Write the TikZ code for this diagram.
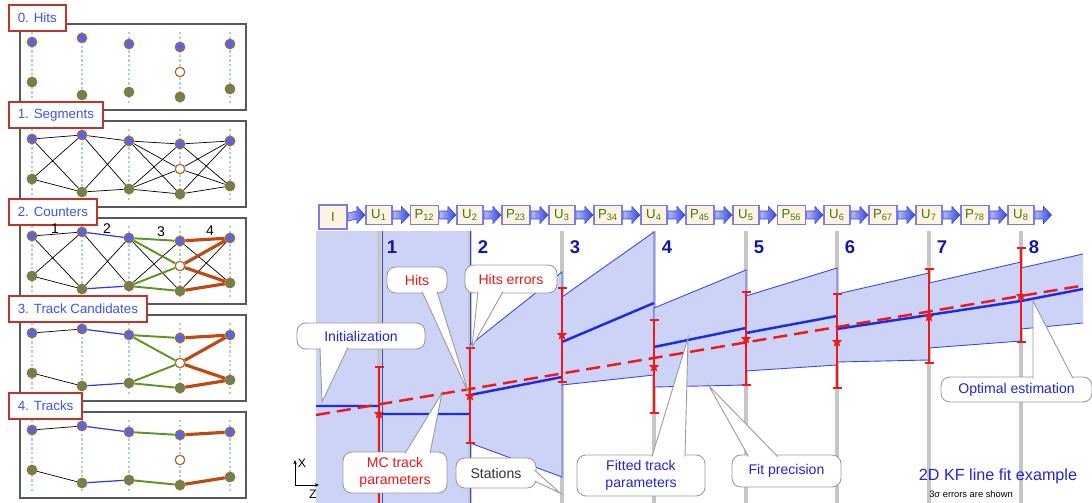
\documentclass[tikz,border=0pt]{standalone}
\usepackage{fontspec}
\setmainfont{Liberation Sans}
\usepackage{tikz}
\usetikzlibrary{calc,positioning,arrows.meta,shapes.geometric}

\definecolor{HitBlue}{HTML}{4A68F0}
\definecolor{HitGreen}{HTML}{5B8B52}
\definecolor{HitRim}{HTML}{B8642C}
\definecolor{DotLine}{HTML}{A8D2D8}
\definecolor{LabRed}{HTML}{C0342C}
\definecolor{LabText}{HTML}{3A55F0}
\definecolor{LnkBlue}{HTML}{2C3CF0}
\definecolor{LnkGreen}{HTML}{5C9620}
\definecolor{LnkOrange}{HTML}{BE4A12}
\definecolor{KFband}{HTML}{CDD2F7}
\definecolor{KFedge}{HTML}{3A48EC}
\definecolor{KFline}{HTML}{1A2CE4}
\definecolor{KFred}{HTML}{F01818}
\definecolor{KFnum}{HTML}{1414A8}
\definecolor{KFtext}{HTML}{2424D8}
\definecolor{StGrey}{HTML}{C6C6C6}
\definecolor{BoxFill}{HTML}{FFF4E2}
\definecolor{BoxDraw}{HTML}{7C7CEA}
\definecolor{BoxText}{HTML}{3C7A10}
\definecolor{CallGrey}{HTML}{9A9A9A}
\definecolor{ArrLight}{HTML}{B4BCF6}
\definecolor{ArrDark}{HTML}{3442DC}

% one step of the track finder: frame, stations, hits
\newcommand{\hitpanel}[2]{%
  \begin{scope}[shift={(0,{97*#1})}]
    \draw[panelframe] (20,24) rectangle (246,110);
    \foreach \x/\yt/\yb [count=\i] in {32/42/82,82/38/95,129/44/92,180/47/97,230/44/89}{
      \draw[stationdots] (\x,32) -- (\x,105);
      \node[hitb] (p#1t\i) at (\x,\yt) {};
      \node[hitg] (p#1b\i) at (\x,\yb) {};
    }
    \node[hite] (p#1e) at (180,72) {};
    \node[panellabel] (lab#1) at (8,18) {#2};
  \end{scope}}

% block arrow of the filter chain
\newcommand{\fatarrow}[2]{%
  \path[draw=ArrDark, line width=0.3pt, left color=ArrLight, right color=ArrDark]
    ($(#1)+(0.5,-4)$) -- ($(#2)+(-8.5,-4)$) -- ($(#2)+(-8.5,-8.5)$) -- ($(#2)+(-0.5,0)$)
    -- ($(#2)+(-8.5,8.5)$) -- ($(#2)+(-8.5,4)$) -- ($(#1)+(0.5,4)$) -- cycle;}

% pointer of a callout
\newcommand{\pointto}[4]{%
  \fill[white] ($(#1)+(#2)$) -- (#4) -- ($(#1)+(#3)$) -- cycle;
  \draw[pointer] ($(#1)+(#2)$) -- (#4) -- ($(#1)+(#3)$);}

\begin{document}
\begin{tikzpicture}[x=0.02cm, y=-0.02cm,
    panelframe/.style={draw=black!65, line width=0.6pt},
    stationdots/.style={DotLine, line width=1.3pt, dash pattern=on 1.3pt off 1.3pt},
    hit/.style={circle, draw=HitRim, line width=0.7pt, minimum size=0.19cm, inner sep=0pt},
    hitb/.style={hit, fill=HitBlue},
    hitg/.style={hit, fill=HitGreen},
    hite/.style={hit, fill=white},
    panellabel/.style={draw=LabRed, line width=1.1pt, fill=white, text=LabText, anchor=west,
                       minimum height=0.52cm, inner xsep=5pt, font=\fontsize{7.6}{9}\selectfont},
    seg/.style={black, line width=0.4pt},
    lkblue/.style={LnkBlue, line width=0.7pt},
    lkgreen/.style={LnkGreen, line width=1.1pt},
    lkorange/.style={LnkOrange, line width=1.8pt},
    cntlabel/.style={font=\fontsize{8}{9}\selectfont},
    band/.style={fill=KFband},
    bandedge/.style={draw=KFedge, line width=0.5pt},
    stationline/.style={StGrey, line width=1.8pt},
    estline/.style={KFline, line width=1.4pt},
    mcline/.style={KFred, line width=1.4pt, dash pattern=on 8pt off 4pt},
    errbar/.style={KFred, line width=1.6pt},
    hitstar/.style={star, star points=5, star point ratio=2.3, fill=KFred, minimum size=0.22cm, inner sep=0pt},
    stnum/.style={text=KFnum, font=\bfseries\fontsize{10.5}{12}\selectfont},
    chainbox/.style={draw=BoxDraw, fill=BoxFill, text=BoxText, line width=0.6pt,
                     minimum height=0.38cm, inner sep=1pt, font=\fontsize{7.5}{8}\selectfont},
    bubble/.style={draw=CallGrey, fill=white, line width=0.5pt, rounded corners=5pt, align=center,
                   inner sep=1pt, font=\fontsize{8}{9.5}\selectfont},
    pointer/.style={CallGrey, line width=0.5pt},
    zxaxis/.style={black, line width=0.4pt, -{Stealth[length=2.5pt,width=2pt]}},
    axlabel/.style={font=\fontsize{7}{8}\selectfont, inner sep=0pt}]
\useasboundingbox (0,0) rectangle (1092,503);

% ---- left: track finder steps
\hitpanel{0}{0. Hits}
\hitpanel{1}{1. Segments}
\hitpanel{2}{2. Counters}
\hitpanel{3}{3. Track Candidates}
\hitpanel{4}{4. Tracks}

% segments
\foreach \a/\b in {1/2,2/3,3/4,4/5}
  \draw[seg] (p1t\a) -- (p1t\b) (p1t\a) -- (p1b\b) (p1b\a) -- (p1t\b) (p1b\a) -- (p1b\b);
\draw[seg] (p1t3) -- (p1e) (p1b3) -- (p1e) (p1e) -- (p1t5) (p1e) -- (p1b5);

% counters
\draw[seg] (p2t1) -- (p2t2) (p2t1) -- (p2b2) (p2b1) -- (p2t2) (p2b1) -- (p2b2)
           (p2t2) -- (p2b3) (p2b2) -- (p2t3) (p2t3) -- (p2b4) (p2b3) -- (p2t4)
           (p2t4) -- (p2b5) (p2b4) -- (p2t5);
\draw[lkblue] (p2t2) -- (p2t3) (p2b2) -- (p2b3);
\draw[lkgreen] (p2t3) -- (p2t4) (p2t3) -- (p2e) (p2b3) -- (p2e) (p2b3) -- (p2b4);
\draw[lkorange] (p2t4) -- (p2t5) (p2e) -- (p2t5) (p2e) -- (p2b5) (p2b4) -- (p2b5);
\node[cntlabel] (cnt1) at (55,229) {1};
\node[cntlabel] (cnt2) at (107,229) {2};
\node[cntlabel] (cnt3) at (161,232) {3};
\node[cntlabel] (cnt4) at (210,231) {4};

% track candidates
\draw[seg] (p3t1) -- (p3t2) (p3b1) -- (p3b2);
\draw[lkblue] (p3t2) -- (p3t3) (p3b2) -- (p3b3);
\draw[lkgreen] (p3t3) -- (p3t4) (p3t3) -- (p3e) (p3b3) -- (p3e) (p3b3) -- (p3b4);
\draw[lkorange] (p3t4) -- (p3t5) (p3e) -- (p3t5) (p3e) -- (p3b5) (p3b4) -- (p3b5);

% tracks
\draw[seg] (p4t1) -- (p4t2) (p4b1) -- (p4b2);
\draw[lkblue] (p4t2) -- (p4t3) (p4b2) -- (p4b3);
\draw[lkgreen] (p4t3) -- (p4t4) (p4b3) -- (p4b4);
\draw[lkorange] (p4t4) -- (p4t5) (p4b4) -- (p4b5);

% ---- right: KF line fit
\fill[band] (316,231) rectangle (470,503);
\foreach \s in {379,470,562,654,746,837,929,1021}
  \draw[stationline] (\s,231) -- (\s,503);
\draw[bandedge] (382,231) -- (382,503) (470,231) -- (470,503);

\filldraw[band, bandedge] (470,345) -- (562,272) -- (562,477) -- (470,443) -- cycle;
\filldraw[band, bandedge] (562,297) -- (654,232) -- (654,375) -- (562,385) -- cycle;
\filldraw[band, bandedge] (654,308) -- (746,270) -- (746,385) -- (654,387) -- cycle;
\filldraw[band, bandedge] (746,296) -- (837,268) -- (837,365) -- (746,371) -- cycle;
\filldraw[band, bandedge] (837,294) -- (929,273) -- (929,360) -- (837,362) -- cycle;
\filldraw[band, bandedge] (929,283) -- (1021,262) -- (1021,341) -- (929,348) -- cycle;
\fill[band] (1021,268) -- (1083,254) -- (1083,323) -- (1021,329) -- cycle;
\draw[bandedge] (1083,254) -- (1021,268) -- (1021,329) -- (1083,323);

% estimate and true track
\draw[estline] (316,406) -- (379,406) (379,414) -- (470,414) (470,395) -- (562,377)
  (562,342) -- (654,303) (654,347) -- (746,328) (746,333) -- (837,316)
  (837,329) -- (929,315) -- (1021,301) -- (1083,289);
\draw[mcline] (316,415) -- (1080,286);

% hits with errors
\draw[errbar] (374.5,367) -- (383.5,367) (379,367) -- (379,503);
\node[hitstar] (star1) at (379,414) {};
\foreach \s/\t/\b/\h [count=\i from 2] in {470/348/443/396,562/288/382/335,654/320/413/367,
    746/292/385/339,837/294/388/342,929/269/363/317,1021/248/342/296}{
  \draw[errbar] (\s-4.5,\t) -- (\s+4.5,\t) (\s,\t) -- (\s,\b) (\s-4.5,\b) -- (\s+4.5,\b);
  \node[hitstar] (star\i) at (\s,\h) {};
}

% station numbers
\foreach \s [count=\i] in {379,470,562,654,746,837,929,1021}
  \node[stnum] (num\i) at (\s+13,247) {\i};

% filter chain
\node[chainbox, minimum width=0.56cm, minimum height=0.48cm] (I) at (333,217) {I};
\foreach \s [count=\i] in {379,470,562,654,746,837,929,1021}
  \node[chainbox, minimum width=0.52cm] (U\i) at (\s,215) {U\textsubscript{\i}};
\foreach \i in {1,...,7}{
  \pgfmathtruncatemacro{\j}{\i+1}
  \node[chainbox, minimum width=0.56cm] (P\i\j) at ($(U\i)!0.5!(U\j)$) {P\textsubscript{\i\j}};
}
\coordinate (chainend) at (1052,215);
\foreach \a/\b in {I/U1,U1/P12,P12/U2,U2/P23,P23/U3,U3/P34,P34/U4,U4/P45,P45/U5,
    U5/P56,P56/U6,U6/P67,P67/U7,U7/P78,P78/U8}{
  \fatarrow{\a.east}{\b.west}
}
\fatarrow{U8.east}{chainend}

% callouts
\coordinate (tipHits) at (469,394);
\coordinate (tipErr) at (472,347);
\coordinate (tipInit) at (322,402);
\coordinate (tipMC) at (442,393);
\coordinate (tipStat) at (560,493);
\coordinate (tipFit) at (688,338);
\coordinate (tipPrec) at (709,386);
\coordinate (tipOpt) at (1033,301);

\node[bubble, text=KFred, minimum width=1.2cm, minimum height=0.52cm] (hitsC) at (417,280) {Hits};
\pointto{hitsC}{5,11.5}{20,11.5}{tipHits}
\node[bubble, text=KFred, minimum width=1.84cm, minimum height=0.56cm] (errC) at (511,279) {Hits errors};
\pointto{errC}{-33,12.5}{-8,12.5}{tipErr}
\node[bubble, text=KFtext, minimum width=2.56cm, minimum height=0.52cm] (initC) at (361,336) {Initialization};
\pointto{initC}{-41,11.5}{-13,11.5}{tipInit}
\node[bubble, text=KFred, minimum width=2.08cm, minimum height=0.82cm] (mcC) at (395,472.5) {MC track\\parameters};
\pointto{mcC}{10,-19}{35,-19}{tipMC}
\node[bubble, text=black!80, minimum width=1.6cm, minimum height=0.6cm] (statC) at (496,473) {Stations};
\pointto{statC}{38.5,-3}{38.5,8}{tipStat}
\node[bubble, text=KFtext, minimum width=2.56cm, minimum height=0.82cm] (fitC) at (641,475.5) {Fitted track\\parameters};
\pointto{fitC}{11,-19}{44,-19}{tipFit}
\node[bubble, text=KFtext, minimum width=2.18cm, minimum height=0.64cm] (precC) at (786.5,471) {Fit precision};
\pointto{precC}{-38,-14.5}{-9,-14.5}{tipPrec}
\node[bubble, text=KFtext, minimum width=3.02cm, minimum height=0.5cm] (optC) at (1016.5,389.5) {Optimal estimation};
\pointto{optC}{16.5,-11}{56.5,-11}{tipOpt}

% axes and caption
\coordinate (axO) at (295,485);
\coordinate (axXtip) at (295,460);
\coordinate (axZtip) at (319,485);
\draw[zxaxis] (axO) -- (axXtip);
\draw[zxaxis] (axO) -- (axZtip);
\node[axlabel] (axX) at (302,463) {X};
\node[axlabel] (axZ) at (313,494) {Z};
\node[text=KFtext, font=\fontsize{9.2}{11}\selectfont] (title) at (998,476) {2D KF line fit example};
\node[font=\fontsize{5.3}{6}\selectfont, inner sep=0pt] (note) at (971,494) {3σ errors are shown};
\end{tikzpicture}
\end{document}
